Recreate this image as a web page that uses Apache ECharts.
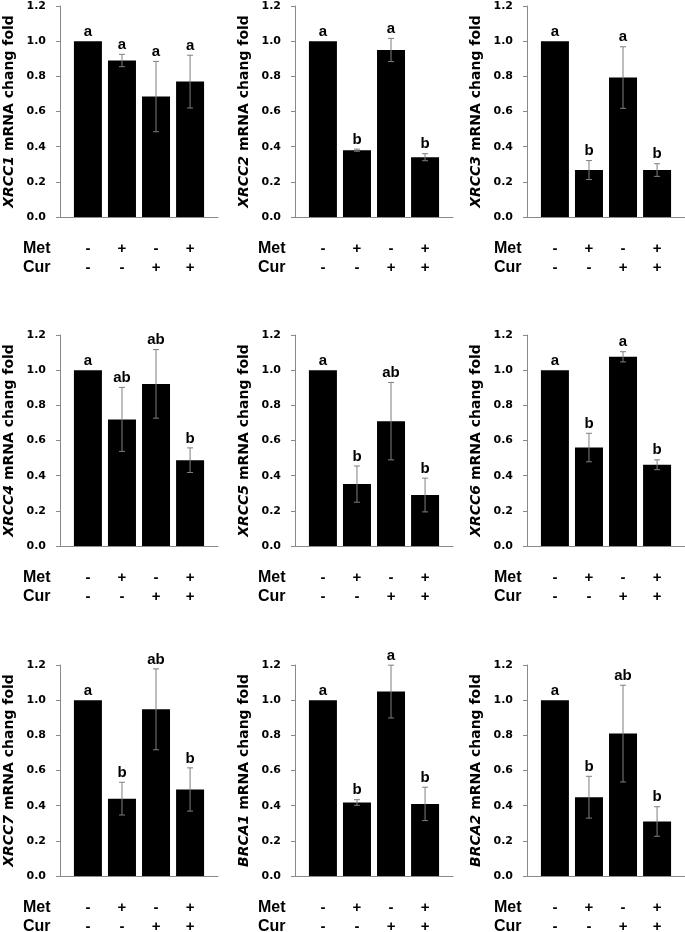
<!DOCTYPE html>
<html>
<head>
<meta charset="utf-8">
<script src="https://cdn.jsdelivr.net/npm/echarts@6/dist/echarts.min.js"></script>
<style>
html,body{margin:0;padding:0;background:#fff;}
#chart{width:685px;height:932px;}
</style>
</head>
<body>
<div id="chart"></div>
<script>
// ---- data ----
const genes = ['XRCC1','XRCC2','XRCC3','XRCC4','XRCC5','XRCC6','XRCC7','BRCA1','BRCA2'];
const positions = [1, 2, 3, 4];
const metSigns = ['-', '+', '-', '+'];
const curSigns = ['-', '-', '+', '+'];
const rowLabels = ['Met', 'Cur'];
const yTicks = [0, 0.2, 0.4, 0.6, 0.8, 1.0, 1.2];

const XRCC1_mean = [1.0, 0.89, 0.685, 0.77];
const XRCC1_err  = [0, 0.035, 0.2, 0.15];
const XRCC1_sig  = ['a', 'a', 'a', 'a'];

const XRCC2_mean = [1.0, 0.38, 0.95, 0.34];
const XRCC2_err  = [0, 0.006, 0.066, 0.02];
const XRCC2_sig  = ['a', 'b', 'a', 'b'];

const XRCC3_mean = [1.0, 0.267, 0.793, 0.267];
const XRCC3_err  = [0, 0.054, 0.175, 0.036];
const XRCC3_sig  = ['a', 'b', 'a', 'b'];

const XRCC4_mean = [1.0, 0.72, 0.922, 0.488];
const XRCC4_err  = [0, 0.182, 0.195, 0.07];
const XRCC4_sig  = ['a', 'ab', 'ab', 'b'];

const XRCC5_mean = [1.0, 0.352, 0.71, 0.29];
const XRCC5_err  = [0, 0.103, 0.22, 0.096];
const XRCC5_sig  = ['a', 'b', 'ab', 'b'];

const XRCC6_mean = [1.0, 0.56, 1.076, 0.462];
const XRCC6_err  = [0, 0.081, 0.029, 0.028];
const XRCC6_sig  = ['a', 'b', 'a', 'b'];

const XRCC7_mean = [1.0, 0.44, 0.948, 0.492];
const XRCC7_err  = [0, 0.093, 0.23, 0.123];
const XRCC7_sig  = ['a', 'b', 'ab', 'b'];

const BRCA1_mean = [1.0, 0.418, 1.049, 0.41];
const BRCA1_err  = [0, 0.016, 0.15, 0.095];
const BRCA1_sig  = ['a', 'b', 'a', 'b'];

const BRCA2_mean = [1.0, 0.448, 0.81, 0.31];
const BRCA2_err  = [0, 0.119, 0.275, 0.084];
const BRCA2_sig  = ['a', 'b', 'ab', 'b'];

const allMeans = [XRCC1_mean, XRCC2_mean, XRCC3_mean, XRCC4_mean, XRCC5_mean, XRCC6_mean, XRCC7_mean, BRCA1_mean, BRCA2_mean];
const allErrs  = [XRCC1_err, XRCC2_err, XRCC3_err, XRCC4_err, XRCC5_err, XRCC6_err, XRCC7_err, BRCA1_err, BRCA2_err];
const allSigs  = [XRCC1_sig, XRCC2_sig, XRCC3_sig, XRCC4_sig, XRCC5_sig, XRCC6_sig, XRCC7_sig, BRCA1_sig, BRCA2_sig];

// ---- layout ----
const colLeft = [60, 295, 527];
const rowTop = [6, 335, 665];
const labelLeft = [23, 258, 494];
const gridW = 158, gridH = 211;

const grids = [], xAxes = [], yAxes = [], series = [], titles = [];
const axisGray = '#8a8a8a';

genes.forEach(function (g, i) {
  const r = Math.floor(i / 3), c = i % 3;
  grids.push({ left: colLeft[c], top: rowTop[r], width: gridW, height: gridH, containLabel: false, outerBoundsMode: 'none' });
  xAxes.push({
    type: 'value', gridIndex: i, min: 0.18, max: 4.82,
    splitLine: { show: false },
    axisTick: { show: false },
    axisLine: { show: true, onZero: false, lineStyle: { color: axisGray, width: 1 } },
    axisLabel: {
      show: true,
      customValues: positions,
      margin: 22,
      fontFamily: 'Liberation Sans', fontWeight: 'bold', fontSize: 15, lineHeight: 19, color: '#000',
      formatter: function (v) {
        const k = Math.round(v) - 1;
        return metSigns[k] + '\n' + curSigns[k];
      }
    }
  });
  yAxes.push({
    type: 'value', gridIndex: i, min: 0, max: 1.2, interval: 0.2,
    splitLine: { show: false },
    axisLine: { show: true, lineStyle: { color: axisGray, width: 1 } },
    axisTick: { show: true, inside: false, length: 4, lineStyle: { color: axisGray } },
    axisLabel: {
      margin: 14, fontFamily: 'DejaVu Sans', fontWeight: 'bold', fontSize: 11, color: '#000',
      formatter: function (v) { return v.toFixed(1); }
    },
    name: '{i|' + g + '} mRNA chang fold',
    nameLocation: 'middle', nameRotate: 90, nameGap: 44,
    nameTextStyle: {
      fontFamily: 'DejaVu Sans', fontWeight: 'bold', fontSize: 14, color: '#000',
      rich: { i: { fontFamily: 'DejaVu Sans', fontWeight: 'bold', fontStyle: 'italic', fontSize: 14, color: '#000' } }
    }
  });
  const means = allMeans[i], errs = allErrs[i], sigs = allSigs[i];
  series.push({
    type: 'bar', xAxisIndex: i, yAxisIndex: i, barWidth: 28,
    itemStyle: { color: '#000' },
    data: positions.map(function (p, k) { return [p, means[k]]; }),
    animation: false, z: 2
  });
  series.push({
    type: 'custom', xAxisIndex: i, yAxisIndex: i, z: 5, animation: false,
    data: positions.map(function (p, k) { return [p, means[k], errs[k]]; }),
    renderItem: function (params, api) {
      const x = api.value(0), m = api.value(1), e = api.value(2);
      const top = api.coord([x, m + e]);
      const bot = api.coord([x, m - e]);
      const children = [];
      if (e > 0) {
        const st = { stroke: '#7f7f7f', lineWidth: 1 };
        children.push({ type: 'line', shape: { x1: top[0], y1: top[1], x2: bot[0], y2: bot[1] }, style: st });
        children.push({ type: 'line', shape: { x1: top[0] - 3, y1: top[1], x2: top[0] + 3, y2: top[1] }, style: st });
        children.push({ type: 'line', shape: { x1: bot[0] - 3, y1: bot[1], x2: bot[0] + 3, y2: bot[1] }, style: st });
      }
      children.push({
        type: 'text',
        style: {
          text: sigs[params.dataIndex], x: top[0], y: top[1] - 2,
          textAlign: 'center', textVerticalAlign: 'bottom', align: 'center', verticalAlign: 'bottom',
          font: 'bold 15px "Liberation Sans"', fill: '#000'
        }
      });
      return { type: 'group', children: children };
    }
  });
  titles.push({
    text: rowLabels.join('\n'),
    left: labelLeft[c], top: rowTop[r] + gridH + 32 - 9.5 - 5, padding: [5, 0, 0, 0],
    textStyle: { fontFamily: 'Liberation Sans', fontWeight: 'bold', fontSize: 16, lineHeight: 19, color: '#000' }
  });
});

const chart = echarts.init(document.getElementById('chart'), null, { renderer: 'canvas' });
chart.setOption({
  animation: false,
  backgroundColor: '#fff',
  title: titles,
  grid: grids,
  xAxis: xAxes,
  yAxis: yAxes,
  series: series
});
</script>
</body>
</html>
